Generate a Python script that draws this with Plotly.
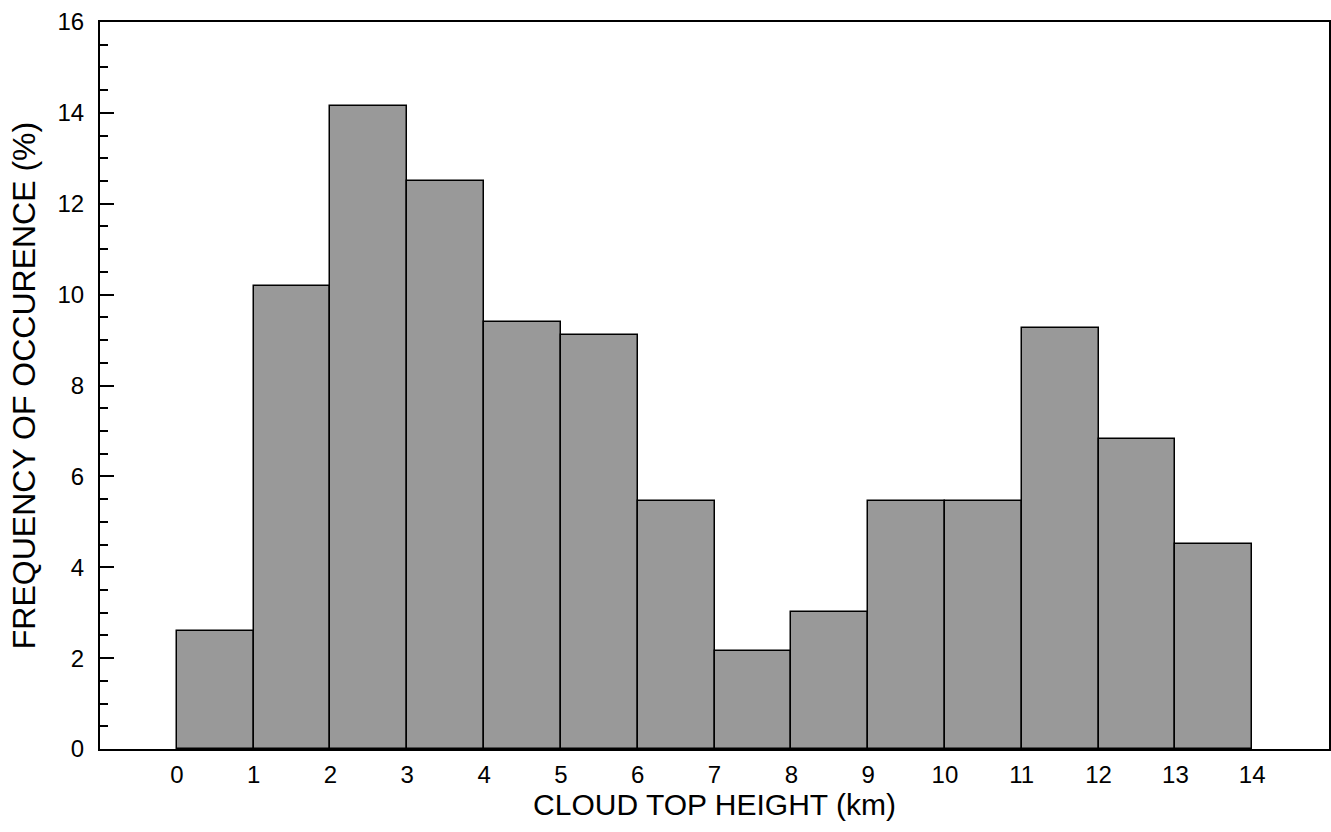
import plotly.graph_objects as go

bin_left = [0, 1, 2, 3, 4, 5, 6, 7, 8, 9, 10, 11, 12, 13]
frequency = [2.60, 10.19, 14.15, 12.50, 9.40, 9.11, 5.46, 2.16, 3.01, 5.46, 5.46, 9.26, 6.82, 4.51]
x_ticks = list(range(0, 15))
y_ticks = list(range(0, 17, 2))

fig = go.Figure()
fig.add_trace(go.Bar(
    x=[b + 0.5 for b in bin_left],
    y=frequency,
    width=1,
    marker=dict(color="#999999", line=dict(color="black", width=1.5)),
))

fig.update_layout(
    width=1331, height=832,
    margin=dict(l=100, r=2, t=22, b=83, autoexpand=False),
    paper_bgcolor="white", plot_bgcolor="white",
    font=dict(family="Liberation Sans, Arial, sans-serif", color="black", size=24),
    showlegend=False,
    bargap=0,
)
fig.update_xaxes(
    range=[-1, 15], tickmode="array", tickvals=x_ticks, ticktext=[str(v) for v in x_ticks],
    ticks="", showgrid=False, zeroline=False,
    showline=True, linecolor="black", linewidth=2, mirror=True,
    title=dict(text="CLOUD TOP HEIGHT (km)", font=dict(size=30), standoff=4),
    tickfont=dict(size=24), ticklabelstandoff=3,
)
fig.update_yaxes(
    range=[0, 16], tickmode="array", tickvals=y_ticks,
    ticks="inside", ticklen=14, tickwidth=2, tickcolor="black",
    minor=dict(dtick=0.5, ticks="inside", ticklen=8, tickwidth=2, tickcolor="black"),
    showgrid=False, zeroline=False,
    showline=True, linecolor="black", linewidth=2, mirror=True,
    title=dict(text="FREQUENCY OF OCCURENCE (%)", font=dict(size=32), standoff=12),
    tickfont=dict(size=24), ticklabelstandoff=9,
)

fig.write_html("out.html", config={"displayModeBar": False},
               post_script="document.body.style.margin='0';document.body.style.overflow='hidden';")
